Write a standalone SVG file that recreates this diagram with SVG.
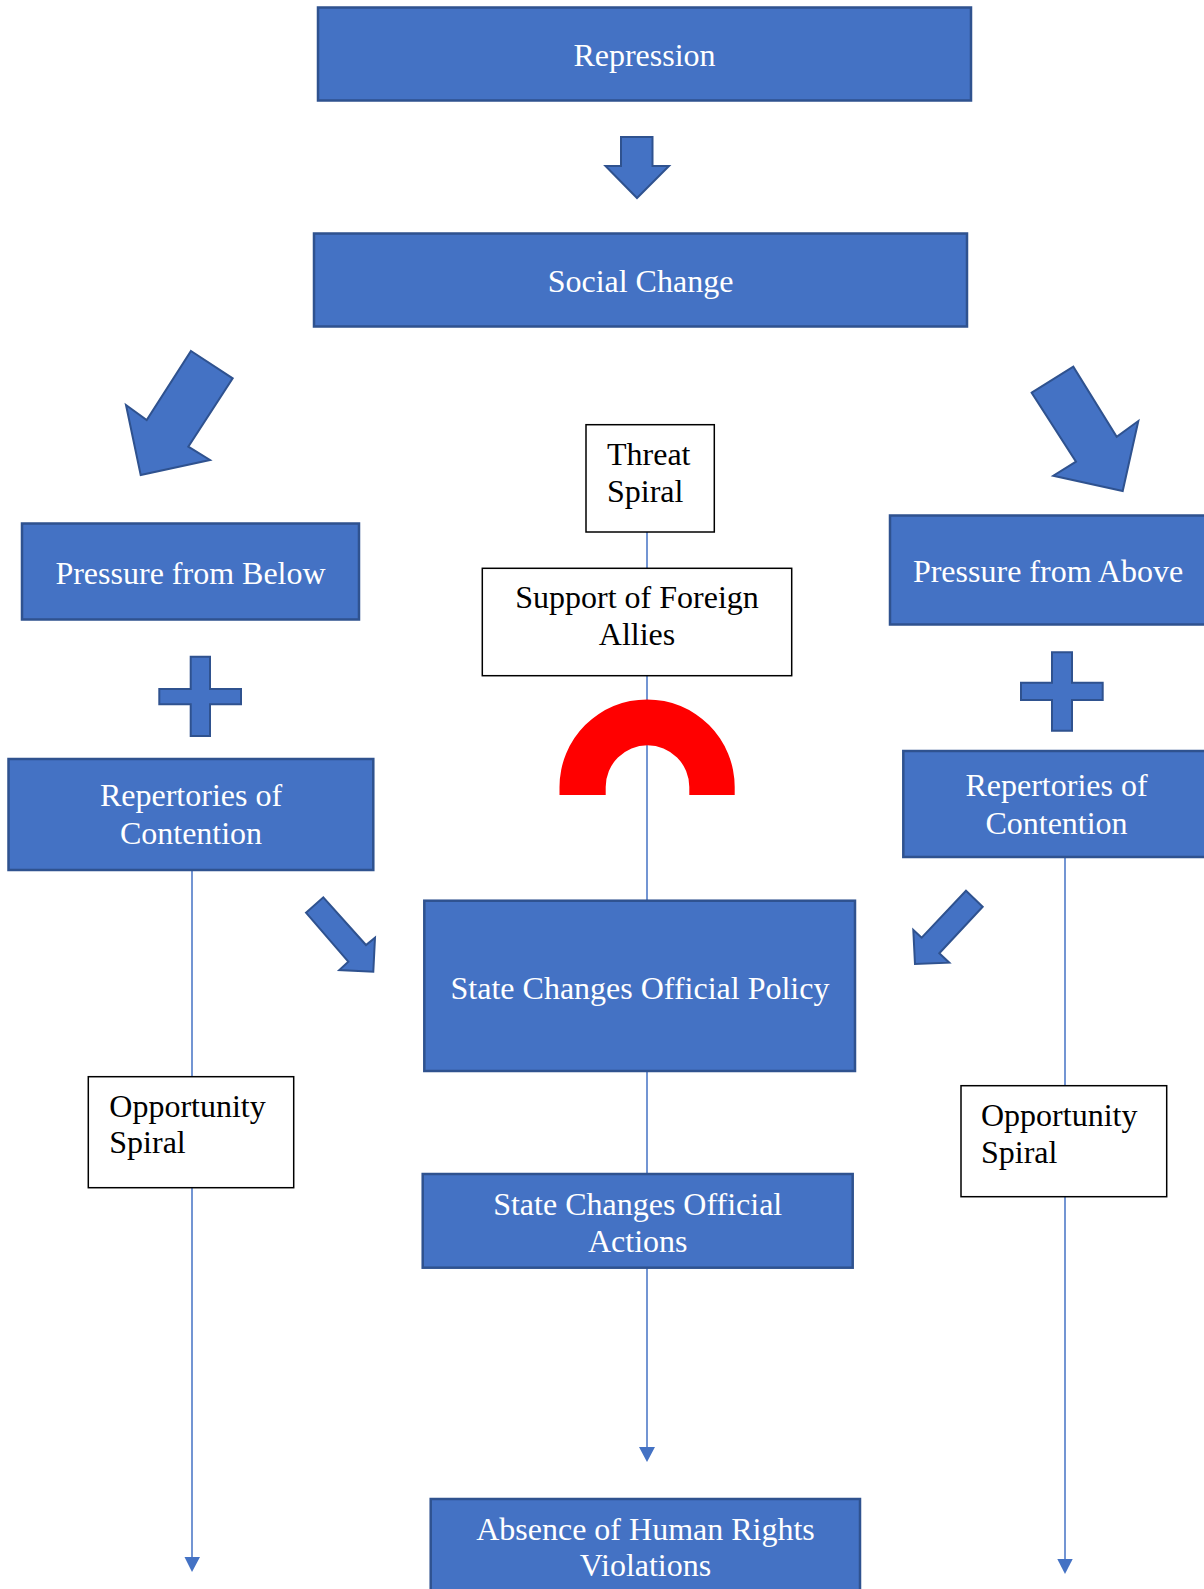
<svg xmlns="http://www.w3.org/2000/svg" width="1204" height="1589" viewBox="0 0 1204 1589">
<style>
.bx{fill:#4472C4;stroke:#2F528F;stroke-width:2.5}
.wb{fill:#FFFFFF;stroke:#000000;stroke-width:1.5}
.sh{fill:#4472C4;stroke:#2F528F;stroke-width:2;stroke-linejoin:miter}
.ln{stroke:#4472C4;stroke-width:1.5;fill:none}
.hd{fill:#4472C4}
.tw{font-family:"Liberation Serif","Times New Roman",serif;font-size:32px;fill:#FFFFFF;text-anchor:middle}
.tb{font-family:"Liberation Serif","Times New Roman",serif;font-size:32px;fill:#000000}
</style>
<rect width="1204" height="1589" fill="#FFFFFF"/>
<g id="connectors">
<line class="ln" x1="647" y1="532" x2="647" y2="568"/>
<line class="ln" x1="647" y1="676" x2="647" y2="901"/>
<line class="ln" x1="647" y1="1071" x2="647" y2="1174"/>
<line class="ln" x1="647" y1="1268" x2="647" y2="1448"/>
<polygon class="hd" points="639,1447 655,1447 647,1462"/>
<line class="ln" x1="192" y1="870" x2="192" y2="1077"/>
<line class="ln" x1="192" y1="1188" x2="192" y2="1558"/>
<polygon class="hd" points="184.5,1557 200,1557 192,1572"/>
<line class="ln" x1="1065" y1="857" x2="1065" y2="1086"/>
<line class="ln" x1="1065" y1="1197" x2="1065" y2="1560"/>
<polygon class="hd" points="1057.3,1559 1072.7,1559 1065,1574"/>
</g>
<g id="arrow-down">
<polygon class="sh" points="621,137 652.5,137 652.5,166 669,166 637,198 605.5,166 621,166"/>
</g>
<g id="arrow-left-big">
<polygon class="sh" points="191,351 232.7,378.3 188.3,446.7 210,460 140.7,475 126,405 146.7,420"/>
</g>
<g id="arrow-right-big">
<polygon class="sh" points="1031.7,392.7 1073.3,366.7 1116.7,436.7 1138.3,421 1122.7,491 1053.3,475.7 1076,461.7"/>
</g>
<g id="plus-left">
<polygon class="sh" points="190.7,656.7 210,656.7 210,689 241,689 241,704.3 210,704.3 210,736 190.7,736 190.7,704.3 159.3,704.3 159.3,689 190.7,689"/>
</g>
<g id="plus-right">
<polygon class="sh" points="1052,652.3 1072,652.3 1072,682.7 1102.7,682.7 1102.7,700 1072,700 1072,730.7 1052,730.7 1052,700 1021,700 1021,682.7 1052,682.7"/>
</g>
<g id="arrow-small-left">
<polygon class="sh" points="306,912.7 323.3,897.3 366,945 375,937.7 373.3,971.7 339.3,970 348.3,961.7"/>
</g>
<g id="arrow-small-right">
<polygon class="sh" points="966,890.7 982.7,906.7 939.3,953.3 949.3,962.7 915,964 913.3,930 921.7,937.7"/>
</g>
<g id="red-arc">
<path fill="#FF0000" d="M559.5 795 L559.5 787 A87.6 87.6 0 0 1 734.7 787 L734.7 795 L689.3 795 L689.3 787 A41.8 41.8 0 0 0 605.7 787 L605.7 795 Z"/>
</g>
<g id="repression">
<rect class="bx" x="318" y="7.5" width="653" height="93"/>
<text class="tw" x="644.5" y="66">Repression</text>
</g>
<g id="social-change">
<rect class="bx" x="314" y="233.5" width="653" height="93"/>
<text class="tw" x="640.5" y="292">Social Change</text>
</g>
<g id="pressure-below">
<rect class="bx" x="22" y="523.5" width="337" height="96"/>
<text class="tw" x="190.5" y="584">Pressure from Below</text>
</g>
<g id="pressure-above">
<rect class="bx" x="890" y="515.5" width="318" height="109"/>
<text class="tw" x="1048" y="582">Pressure from Above</text>
</g>
<g id="threat-spiral">
<rect class="wb" x="586" y="424.7" width="128.3" height="107.3"/>
<text class="tb" x="607" y="465">Threat</text>
<text class="tb" x="607" y="501.5">Spiral</text>
</g>
<g id="support-allies">
<rect class="wb" x="482.3" y="568.3" width="309.4" height="107.4"/>
<text class="tb" x="637" y="607.5" text-anchor="middle">Support of Foreign</text>
<text class="tb" x="637" y="645" text-anchor="middle">Allies</text>
</g>
<g id="repertories-left">
<rect class="bx" x="8.5" y="759" width="364.8" height="111"/>
<text class="tw" x="191" y="806">Repertories of</text>
<text class="tw" x="191" y="844">Contention</text>
</g>
<g id="repertories-right">
<rect class="bx" x="903.3" y="751" width="306" height="106"/>
<text class="tw" x="1056.5" y="795.5">Repertories of</text>
<text class="tw" x="1056.5" y="834">Contention</text>
</g>
<g id="state-policy">
<rect class="bx" x="424.3" y="900.7" width="430.7" height="170.3"/>
<text class="tw" x="640" y="998.5">State Changes Official Policy</text>
</g>
<g id="opportunity-left">
<rect class="wb" x="88.3" y="1076.7" width="205.4" height="111"/>
<text class="tb" x="109.3" y="1116.5">Opportunity</text>
<text class="tb" x="109.3" y="1153">Spiral</text>
</g>
<g id="opportunity-right">
<rect class="wb" x="961" y="1085.7" width="205.7" height="111"/>
<text class="tb" x="981" y="1126">Opportunity</text>
<text class="tb" x="981" y="1162.5">Spiral</text>
</g>
<g id="state-actions">
<rect class="bx" x="422.7" y="1174" width="430" height="93.7"/>
<text class="tw" x="637.7" y="1215">State Changes Official</text>
<text class="tw" x="637.7" y="1252">Actions</text>
</g>
<g id="absence-violations">
<rect class="bx" x="430.7" y="1499" width="429.3" height="100"/>
<text class="tw" x="645.5" y="1539.5">Absence of Human Rights</text>
<text class="tw" x="645.5" y="1576">Violations</text>
</g>
</svg>
